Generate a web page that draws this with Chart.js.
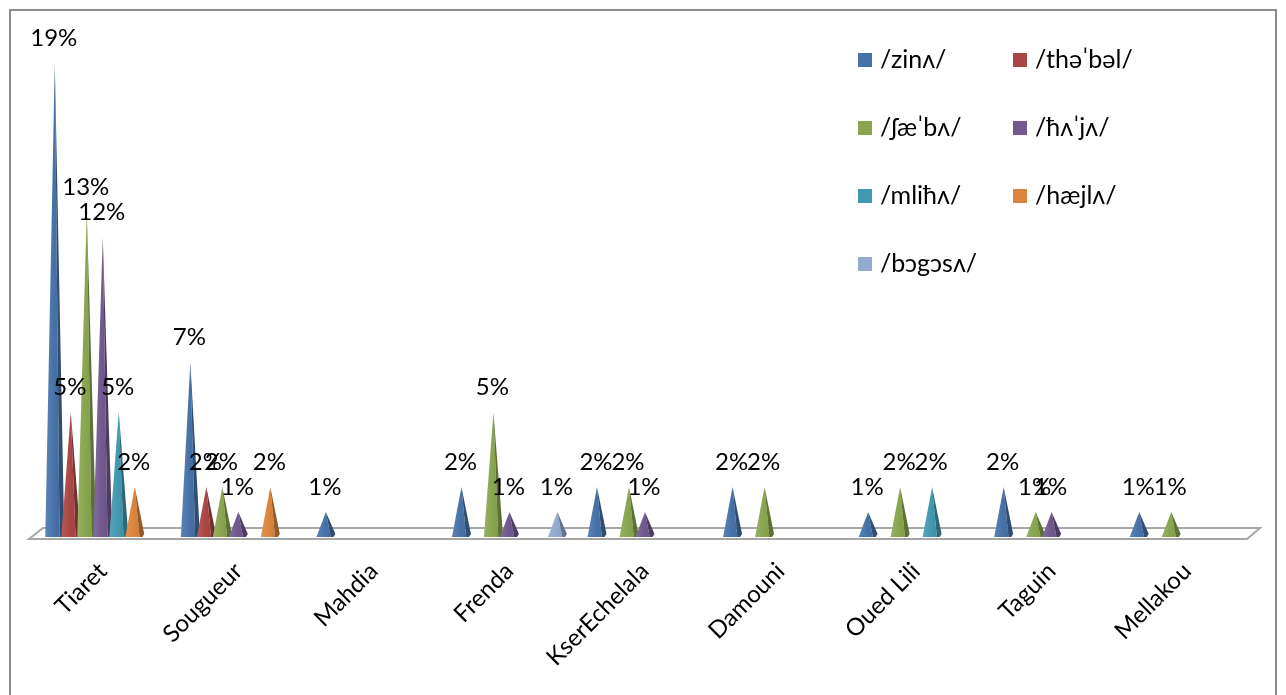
<!DOCTYPE html>
<html>
<head>
<meta charset="utf-8">
<script src="https://cdn.jsdelivr.net/npm/chart.js@4"></script>
<style>
  html, body { margin: 0; padding: 0; background: #fff; }
  #wrap { width: 1286px; height: 695px; position: relative; }
</style>
</head>
<body>
<div id="wrap"><canvas id="cones"></canvas></div>
<script>
// towns on the x axis
var towns = ['Tiaret', 'Sougueur', 'Mahdia', 'Frenda', 'KserEchelala', 'Damouni', 'Oued Lili', 'Taguin', 'Mellakou'];

// percentages per word (null = no cone)
var zina   = [19, 7, 1, 2, 2, 2, 1, 2, 1];
var thabal = [5, 2, null, null, null, null, null, null, null];
var chaaba = [13, 2, null, 5, 2, 2, 2, 1, 1];
var hayya  = [12, 1, null, 1, 1, null, null, 1, null];
var mliha  = [5, null, null, null, null, null, 2, null, null];
var hayla  = [2, 2, null, null, null, null, null, null, null];
var bogosa = [null, null, null, 1, null, null, null, null, null];

var words = ['/zinʌ/', '/thəˈbəl/', '/ʃæˈbʌ/', '/ħʌˈjʌ/', '/mliħʌ/', '/hæjlʌ/', '/bɔgɔsʌ/'];
var series = [zina, thabal, chaaba, hayya, mliha, hayla, bogosa];
var colors = ['#4672a8', '#aa4643', '#89a54e', '#71588f', '#4198af', '#db843d', '#93a9cf'];

var FONT = "Lato, 'Noto Sans', 'DejaVu Sans', sans-serif";

function shade(hex, f) {
    var n = parseInt(hex.slice(1), 16);
    var r = (n >> 16) & 255, g = (n >> 8) & 255, b = n & 255;
    if (f < 0) { r = r * (1 + f); g = g * (1 + f); b = b * (1 + f); }
    else { r = r + (255 - r) * f; g = g + (255 - g) * f; b = b + (255 - b) * f; }
    return 'rgb(' + Math.round(r) + ',' + Math.round(g) + ',' + Math.round(b) + ')';
}

// frame + 3d floor
var floorPlugin = {
    id: 'floor',
    beforeDraw: function (chart) {
        var c = chart.ctx;
        c.save();
        c.fillStyle = '#fff';
        c.fillRect(0, 0, chart.width, chart.height);
        c.strokeStyle = '#8c8c8c';
        c.lineWidth = 2;
        c.strokeRect(10, 10, chart.width - 20, chart.height + 20);
        c.restore();
    },
    beforeDatasetsDraw: function (chart) {
        var c = chart.ctx, a = chart.chartArea;
        var y0 = chart.scales.y.getPixelForValue(0);
        c.save();
        c.beginPath();
        c.moveTo(a.left + 8, y0 - 9);
        c.lineTo(a.right + 5, y0 - 9);
        c.lineTo(a.right - 8, y0 + 2);
        c.lineTo(a.left - 6, y0 + 2);
        c.closePath();
        c.fillStyle = '#fff';
        c.fill();
        c.strokeStyle = '#a6a6a6';
        c.lineWidth = 2;
        c.stroke();
        c.restore();
    }
};

// draw each bar as a pyramid, then the value labels
var conePlugin = {
    id: 'cones',
    afterDatasetsDraw: function (chart) {
        var c = chart.ctx;
        c.save();
        chart.data.datasets.forEach(function (ds, i) {
            var meta = chart.getDatasetMeta(i);
            var col = colors[i];
            meta.data.forEach(function (bar, j) {
                if (ds.data[j] == null) return;
                var x = bar.x, top = bar.y, base = bar.base, w = bar.width + 3;
                var l = x - w / 2, r = x + w / 2, m = x + w * 0.25;
                var g = c.createLinearGradient(l, 0, m, 0);
                g.addColorStop(0, shade(col, 0.12));
                g.addColorStop(0.6, col);
                g.addColorStop(1, shade(col, -0.05));
                c.beginPath();
                c.moveTo(l, base);
                c.lineTo(x, top);
                c.lineTo(m, base);
                c.closePath();
                c.fillStyle = g;
                c.fill();
                c.beginPath();
                c.moveTo(m, base);
                c.lineTo(x, top);
                c.lineTo(r, base - 3);
                c.lineTo(r - 2, base);
                c.closePath();
                c.fillStyle = shade(col, -0.32);
                c.fill();
            });
        });
        c.fillStyle = '#000';
        c.font = '24px ' + FONT;
        c.textAlign = 'center';
        c.textBaseline = 'middle';
        chart.data.datasets.forEach(function (ds, i) {
            var meta = chart.getDatasetMeta(i);
            meta.data.forEach(function (bar, j) {
                if (ds.data[j] == null) return;
                c.fillText(ds.data[j] + '%', bar.x - 1, bar.y - 25);
            });
        });
        c.restore();
    },
    afterDraw: function (chart) {
        // legend, two columns
        var c = chart.ctx;
        c.save();
        c.font = '25px ' + FONT;
        c.textBaseline = 'middle';
        c.textAlign = 'left';
        words.forEach(function (w, i) {
            var cx = i % 2 === 0 ? 858 : 1013;
            var cy = 60 + Math.floor(i / 2) * 68;
            c.fillStyle = colors[i];
            c.fillRect(cx, cy - 7, 14, 14);
            c.fillStyle = '#000';
            c.fillText(w, cx + 22, cy);
        });
        c.restore();
    }
};

var datasets = series.map(function (s, i) {
    return {
        label: words[i],
        data: s,
        backgroundColor: 'rgba(0,0,0,0)',
        borderWidth: 0,
        categoryPercentage: 0.826,
        barPercentage: 1.0
    };
});

new Chart(document.getElementById('cones'), {
    type: 'bar',
    data: { labels: towns, datasets: datasets },
    options: {
        responsive: true,
        maintainAspectRatio: false,
        animation: false,
        layout: { padding: { left: 35, right: 31, top: 38, bottom: 0 } },
        plugins: {
            legend: { display: false },
            tooltip: { enabled: false }
        },
        scales: {
            x: {
                grid: { display: false },
                border: { display: false },
                ticks: {
                    color: '#000',
                    font: { family: FONT, size: 24 },
                    minRotation: 45,
                    maxRotation: 45,
                    padding: 12
                },
                afterFit: function (axis) { axis.height = 158; }
            },
            y: {
                display: false,
                min: 0,
                max: 20
            }
        }
    },
    plugins: [floorPlugin, conePlugin]
});
</script>
</body>
</html>
